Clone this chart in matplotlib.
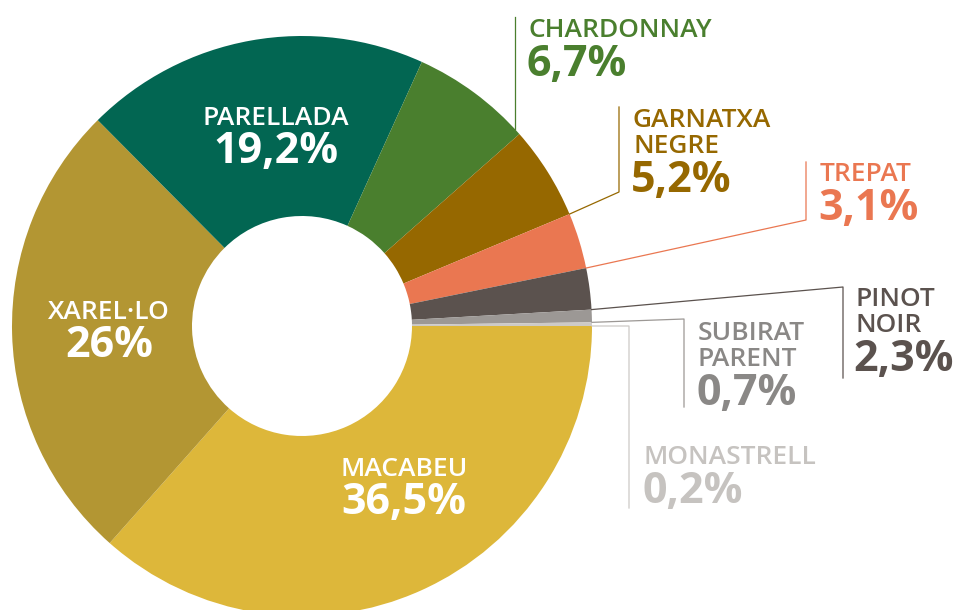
import numpy as np
import matplotlib.pyplot as plt

plt.rcParams['font.family'] = ['Open Sans', 'DejaVu Sans']

# data
varietats = ["MACABEU", "XAREL·LO", "PARELLADA", "CHARDONNAY", "GARNATXA\nNEGRE",
             "TREPAT", "PINOT\nNOIR", "SUBIRAT\nPARENT", "MONASTRELL"]
percent = [36.5, 26, 19.2, 6.7, 5.2, 3.1, 2.3, 0.7, 0.2]
etiquetes = ["36,5%", "26%", "19,2%", "6,7%", "5,2%", "3,1%", "2,3%", "0,7%", "0,2%"]
colors = ["#DDB73A", "#B39633", "#026652", "#4A7F2E", "#966800",
          "#EA7751", "#5B524E", "#9C9895", "#CDCAC7"]
text_colors = ["white", "white", "white", "#4A7F2E", "#966800",
               "#EA7751", "#5B524E", "#8A8886", "#C6C3C0"]

W, H = 957, 610
cx, cy, R = 302, 326, 290

fig = plt.figure(figsize=(W / 100, H / 100), dpi=100)
ax = fig.add_axes([0, 0, 1, 1])

# y axis goes downward (pixel-like), so counterclock=True draws clockwise
wedges, _ = ax.pie(percent, colors=colors, startangle=0, counterclock=True,
                   radius=R, center=(cx, cy),
                   wedgeprops=dict(width=R - 110, linewidth=0))
ax.set_xlim(0, W)
ax.set_ylim(H, 0)
ax.set_aspect('equal')
ax.axis('off')

# labels inside the ring: (center x, name baseline)
inside = {0: (404, 476), 1: (109, 319), 2: (276, 125)}
for i, (x, y) in inside.items():
    ax.text(x, y, varietats[i], color="white", fontsize=19, fontweight='semibold',
            ha='center', va='baseline')
    ax.text(x, y + 38, etiquetes[i], color="white", fontsize=31, fontweight='bold',
            ha='center', va='baseline')

# labels outside: text x, first baseline, leader x, leader top, leader bottom, join end
outside = {
    3: (527, 37, 515, 17, None, None),
    4: (631, 127, 619, 107, 192, 'bottom'),
    5: (818, 181, 806, 162, 220, 'bottom'),
    6: (853, 306, 843, 287, 378, 'top'),
    7: (696, 340, 684, 319, 407, 'top'),
    8: (642, 464, 629, 326, 508, 'top'),
}
for i, (tx, ty, lx, ltop, lbot, join) in outside.items():
    c = text_colors[i]
    nlines = varietats[i].count("\n") + 1
    for k, line in enumerate(varietats[i].split("\n")):
        ax.text(tx + 2, ty + 26 * k, line, color=c, fontsize=19, fontweight='semibold',
                ha='left', va='baseline')
    ax.text(tx, ty + 26 * (nlines - 1) + 39, etiquetes[i], color=c, fontsize=31,
            fontweight='bold', ha='left', va='baseline')

    w = wedges[i]
    t = np.deg2rad(w.theta2)
    if join is None:
        # vertical leader straight down to the ring
        py = cy - np.sqrt(R ** 2 - (lx - cx) ** 2)
        ax.plot([lx, lx], [ltop, py], color=colors[i], lw=0.9)
    else:
        px = cx + R * np.cos(t)
        py = cy + R * np.sin(t)
        jy = lbot if join == 'bottom' else ltop
        ax.plot([px, lx, lx], [py, jy, ltop if join == 'bottom' else lbot],
                color=colors[i], lw=0.9)

fig.savefig("out.png", dpi=100)
